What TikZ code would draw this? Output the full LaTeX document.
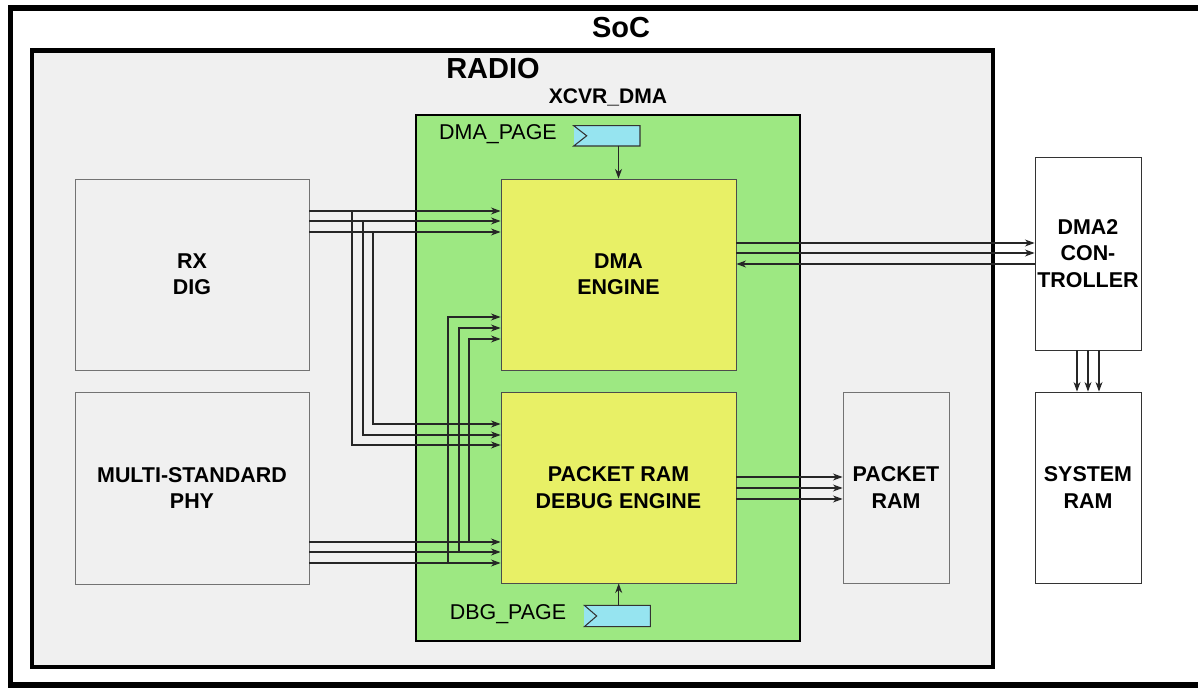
\documentclass[tikz,border=0pt]{standalone}
\usepackage{fontspec}
\setmainfont{Liberation Sans}
\usetikzlibrary{arrows.meta}
\definecolor{radiogray}{RGB}{240,240,240}
\definecolor{xcvrgreen}{RGB}{157,232,130}
\definecolor{engyellow}{RGB}{232,240,102}
\definecolor{regcyan}{RGB}{150,228,240}
\begin{document}
\begin{tikzpicture}[
  x=0.02cm, y=-0.02cm,
  every node/.style={font=\fontsize{12.2}{15}\selectfont},
  block/.style={draw=black!55, line width=0.5pt, align=center, inner sep=1pt,
    font=\fontsize{12.2}{15}\selectfont\bfseries},
  sig/.style={draw=black!85, line width=0.6pt, -{Stealth[length=5.5pt,width=4pt]}},
]
\useasboundingbox (0,0) rectangle (1198,689);
\clip (0,0) rectangle (1198,689);

% SoC and RADIO frames
\draw[line width=3.4pt] (10.5,8) rectangle (1230,685);
\node[font=\fontsize{16.5}{18}\selectfont\bfseries] (soc) at (621,28) {SoC};
\draw[line width=2.5pt, fill=radiogray] (32,50.5) rectangle (993,667);
\node[font=\fontsize{16.5}{18}\selectfont\bfseries] (radio) at (493,69) {RADIO};

% XCVR_DMA container
\draw[line width=1.2pt, fill=xcvrgreen] (416,115) rectangle (800,641);
\node[font=\fontsize{12}{14}\selectfont\bfseries] (xcvr) at (608,97) {XCVR\_DMA};

% Blocks
\node[block, fill=radiogray, minimum width=4.68cm, minimum height=3.82cm] (rx) at (192,274.5) {RX\\DIG};
\node[block, fill=radiogray, minimum width=4.68cm, minimum height=3.84cm] (phy) at (192,488) {MULTI-STANDARD\\PHY};
\node[block, draw=black!70, fill=engyellow, minimum width=4.7cm, minimum height=3.82cm] (dma) at (618.5,274.5) {DMA\\ENGINE};
\node[block, draw=black!70, fill=engyellow, minimum width=4.7cm, minimum height=3.82cm] (dbg) at (618.5,487.5) {PACKET RAM\\DEBUG ENGINE};
\node[block, fill=radiogray, minimum width=2.12cm, minimum height=3.82cm] (pram) at (896,487.5) {PACKET\\RAM};
\node[block, draw=black!80, fill=white, minimum width=2.12cm, minimum height=3.86cm] (dmac) at (1088,253.5) {DMA2\\CON-\\TROLLER};
\node[block, draw=black!80, fill=white, minimum width=2.12cm, minimum height=3.82cm] (sram) at (1088,487.5) {SYSTEM\\RAM};

% Page registers (clock notch on the left)
\fill[regcyan] (573.7,125.7) rectangle (640,146);
\draw[black!80, line width=0.6pt] (573.7,125.7) -- (640,125.7) -- (640,146) -- (573.7,146) -- (586.7,135.8) -- cycle;
\coordinate (dmapg) at (618.5,146);
\node (dmapglab) at (498,134) {DMA\_PAGE};
\fill[regcyan] (584.3,605.3) rectangle (650.3,626.7);
\draw[black!80, line width=0.6pt] (584.3,605.3) -- (650.3,605.3) -- (650.3,626.7) -- (584.3,626.7) -- (596.7,616) -- cycle;
\coordinate (dbgpg) at (618.7,605.3);
\node (dbgpglab) at (508,614) {DBG\_PAGE};

\draw[sig] (dmapg) -- (dma.north -| dmapg);
\draw[sig] (dbgpg) -- (dbg.south -| dbgpg);

% RX DIG buses, branched down to the debug engine
\foreach \y in {211,221,232}
  \draw[sig] (rx.east |- 0,\y) -- (dma.west |- 0,\y);
\foreach \x/\ya/\yb in {352/211/445, 363/221/435, 373/232/424}
  \draw[sig] (\x,\ya) |- (dbg.west |- 0,\yb);

% PHY buses, branched up to the DMA engine
\foreach \y in {542,552,563}
  \draw[sig] (phy.east |- 0,\y) -- (dbg.west |- 0,\y);
\foreach \x/\ya/\yb in {469/542/339, 459/552/328, 448/563/317}
  \draw[sig] (\x,\ya) |- (dma.west |- 0,\yb);

% DMA engine <-> DMA2 controller
\foreach \y in {243,253}
  \draw[sig] (dma.east |- 0,\y) -- (dmac.west |- 0,\y);
\draw[sig] (dmac.west |- 0,264) -- (dma.east |- 0,264);

% Debug engine -> packet RAM
\foreach \y in {477,488,499}
  \draw[sig] (dbg.east |- 0,\y) -- (pram.west |- 0,\y);

% DMA2 controller -> system RAM
\foreach \x in {1077,1088,1099}
  \draw[sig] (dmac.south -| \x,0) -- (sram.north -| \x,0);

\end{tikzpicture}
\end{document}
